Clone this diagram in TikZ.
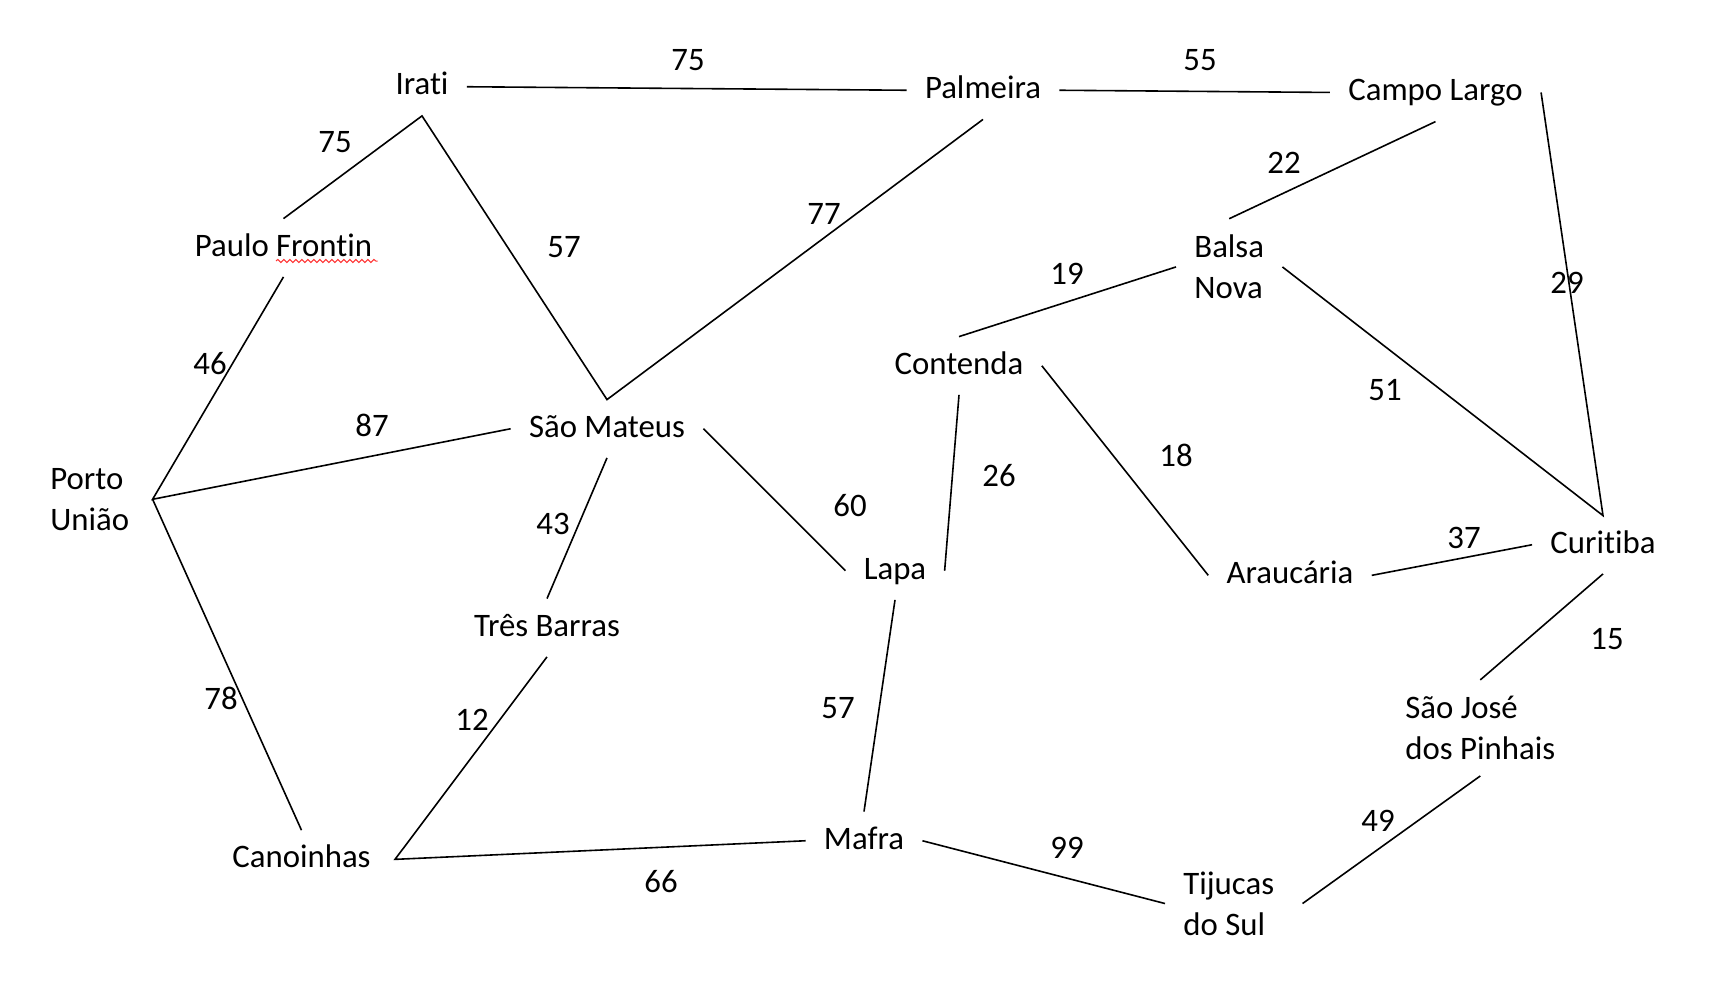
\documentclass[tikz,border=0pt]{standalone}
\usepackage{fontspec}
\setmainfont{Carlito}[Ligatures=NoCommon]
\usetikzlibrary{decorations.pathmorphing}

\begin{document}
\begin{tikzpicture}[x=0.5pt, y=-0.5pt,
  every node/.style={font=\fontsize{16.4}{20.3}\selectfont},
  city/.style={anchor=base, inner xsep=9pt, inner ysep=8pt, text height=10.5pt, text depth=2.25pt},
  citytwo/.style={anchor=base west, align=left, inner xsep=9pt, inner ysep=8pt},
  dist/.style={anchor=base, inner sep=0pt},
  road/.style={line width=0.8pt}]
  \useasboundingbox (0,0) rectangle (1713,990);

  % Cities (two-line names sit on their last line)
  \node[city] (irati) at (422,95) {Irati};
  \node[city] (palmeira) at (983,98.5) {Palmeira};
  \node[city] (campolargo) at (1435.5,100.7) {Campo Largo};
  \node[city] (paulofrontin) at (283.5,256) {Paulo Frontin};
  \node[citytwo] (balsanova) at (1176,298.5) {Balsa\\Nova};
  \node[city] (contenda) at (959,374) {Contenda};
  \node[city] (saomateus) at (607,437) {São Mateus};
  \node[citytwo] (portouniao) at (32,530) {Porto\\União};
  \node[city] (lapa) at (895,579) {Lapa};
  \node[city] (araucaria) at (1290,583.6) {Araucária};
  \node[city] (curitiba) at (1603,553) {Curitiba};
  \node[city] (tresbarras) at (547,636) {Três Barras};
  \node[citytwo] (saojose) at (1387,759.3) {São José\\dos Pinhais};
  \node[city] (canoinhas) at (301.5,867.6) {Canoinhas};
  \node[city] (mafra) at (864,849) {Mafra};
  \node[citytwo] (tijucas) at (1165,935) {Tijucas\\do Sul};

  % spell-check mark under Frontin
  \draw[red!80, line width=0.5pt, decorate, decoration={snake, amplitude=0.8pt, segment length=3pt}]
    ([shift={(-7.5,5)}]paulofrontin.base) -- ([shift={(94,5)}]paulofrontin.base);

  % Roads
  \draw[road] (irati.east) -- (palmeira.west);
  \draw[road] (palmeira.east) -- (campolargo.west);
  \draw[road] (paulofrontin.north) -- (irati.south) -- (saomateus.north) -- (palmeira.south);
  \draw[road] (campolargo.south) -- (balsanova.north);
  \draw[road] (campolargo.east) -- (curitiba.north) -- (balsanova.east);
  \draw[road] (balsanova.west) -- (contenda.north);
  \draw[road] (paulofrontin.south) -- ([xshift=2.5pt]portouniao.east) -- (saomateus.west);
  \draw[road] ([xshift=2.5pt]portouniao.east) -- (canoinhas.north);
  \draw[road] (saomateus.south) -- (tresbarras.north);
  \draw[road] (saomateus.east) -- (lapa.west);
  \draw[road] (contenda.south) -- (lapa.east);
  \draw[road] (contenda.east) -- (araucaria.west);
  \draw[road] (araucaria.east) -- (curitiba.west);
  \draw[road] (curitiba.south) -- (saojose.north);
  \draw[road] (tresbarras.south) -- ([xshift=3pt]canoinhas.east) -- (mafra.west);
  \draw[road] (lapa.south) -- (mafra.north);
  \draw[road] (mafra.east) -- (tijucas.west);
  \draw[road] ([xshift=5pt]tijucas.east) -- (saojose.south);

  % Distances
  \node[dist] (d-ir-pa) at (688,71) {75};
  \node[dist] (d-pa-cl) at (1200,71) {55};
  \node[dist] (d-ir-pf) at (335,153) {75};
  \node[dist] (d-ir-sm) at (564,257) {57};
  \node[dist] (d-pa-sm) at (824,224) {77};
  \node[dist] (d-cl-bn) at (1284,173) {22};
  \node[dist] (d-cl-cu) at (1567,293) {29};
  \node[dist] (d-bn-co) at (1067,284) {19};
  \node[dist] (d-bn-cu) at (1385,400) {51};
  \node[dist] (d-pf-pu) at (210,374) {46};
  \node[dist] (d-pu-sm) at (372,436) {87};
  \node[dist] (d-sm-tb) at (553,534) {43};
  \node[dist] (d-sm-la) at (850,516) {60};
  \node[dist] (d-co-la) at (999,486) {26};
  \node[dist] (d-co-ar) at (1176,466) {18};
  \node[dist] (d-ar-cu) at (1464,548) {37};
  \node[dist] (d-cu-sj) at (1607,649) {15};
  \node[dist] (d-tb-ca) at (472,730) {12};
  \node[dist] (d-pu-ca) at (221,709) {78};
  \node[dist] (d-la-ma) at (838,718) {57};
  \node[dist] (d-ca-ma) at (661,892) {66};
  \node[dist] (d-ma-ti) at (1067,858) {99};
  \node[dist] (d-ti-sj) at (1378,831) {49};
\end{tikzpicture}
\end{document}
